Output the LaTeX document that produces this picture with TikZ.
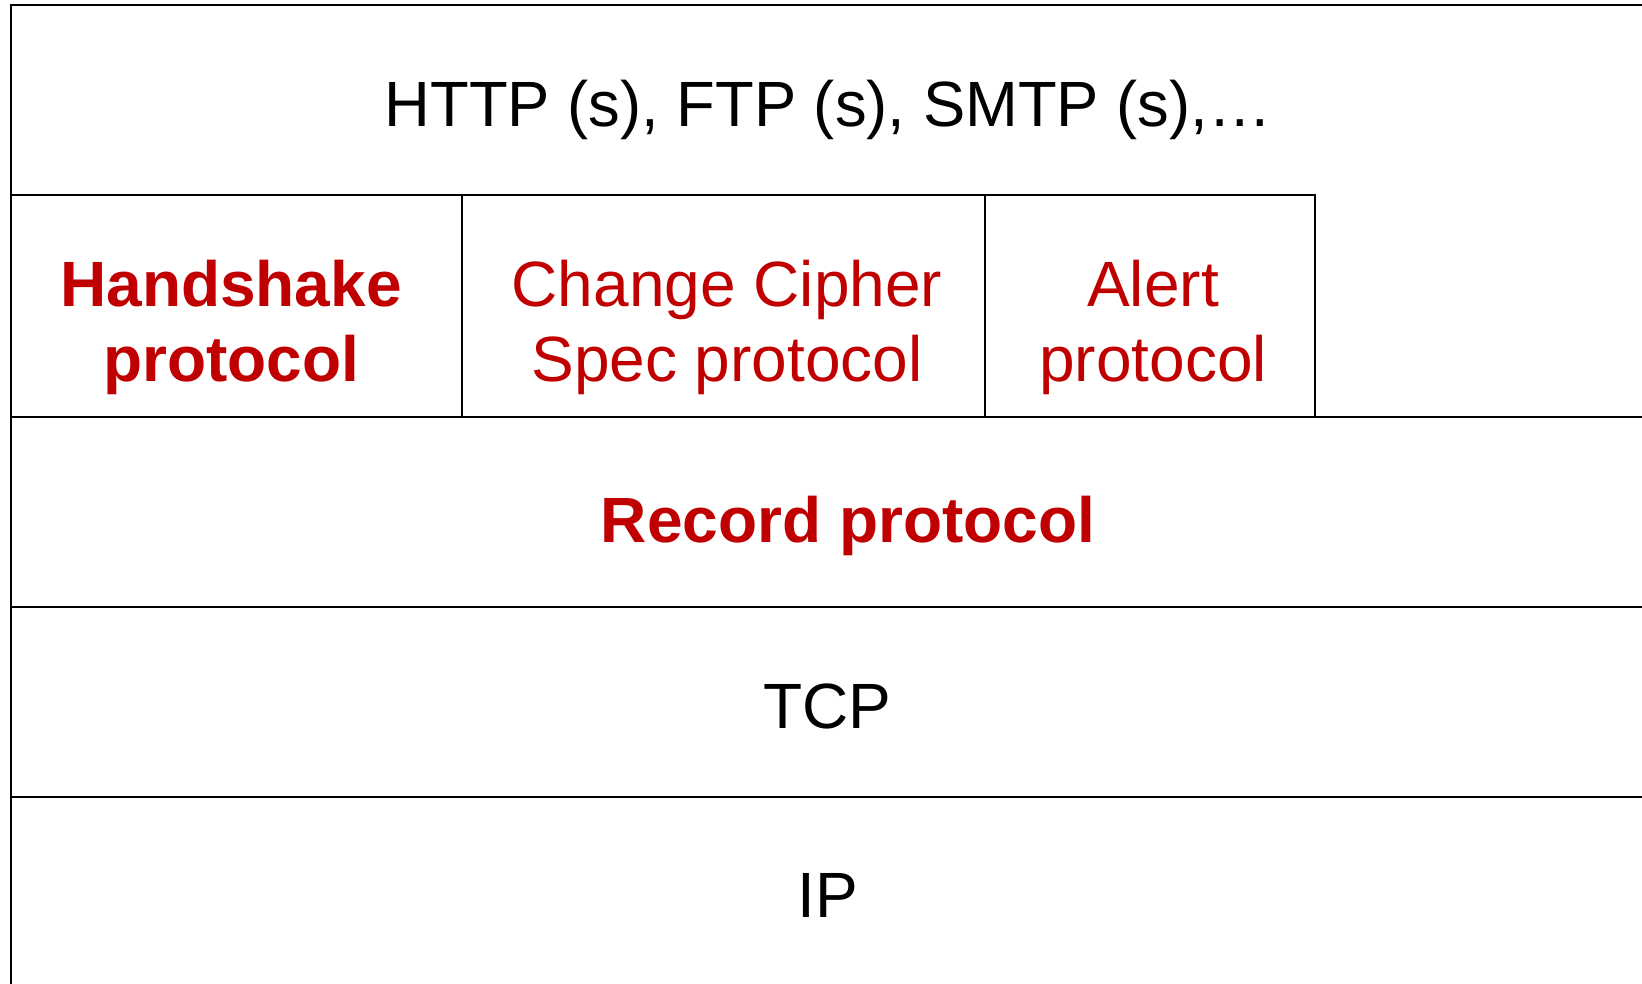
\documentclass[tikz,border=0pt]{standalone}
\usepackage{fontspec}
\setmainfont{Liberation Sans}
\definecolor{protred}{RGB}{192,0,0}
\begin{document}
\begin{tikzpicture}[x=0.5pt,y=-0.5pt,
  layer/.style={line width=1.2pt,black},
  lbl/.style={inner sep=0pt,anchor=base,font=\fontsize{32}{38}\selectfont},
  redlbl/.style={lbl,text=protred},
  redbold/.style={lbl,text=protred,font=\fontsize{32}{38}\selectfont\bfseries}]
\useasboundingbox (0,0) rectangle (1642,984);
% frame lines
\draw[layer] (1642,5) -- (11,5) -- (11,984);
\draw[layer] (11,195) -- (1315,195) -- (1315,417);
\draw[layer] (462,195) -- (462,417);
\draw[layer] (985,195) -- (985,417);
\draw[layer] (11,417) -- (1642,417);
\draw[layer] (11,607) -- (1642,607);
\draw[layer] (11,797) -- (1642,797);
% labels
\node[lbl,xscale=0.99] (app) at (828,127) {HTTP (s), FTP (s), SMTP (s),…};
\node[redbold] (hs1) at (231,306) {Handshake};
\node[redbold] (hs2) at (231,381) {protocol};
\node[redlbl] (cc1) at (727,306) {Change Cipher};
\node[redlbl] (cc2) at (727,381) {Spec protocol};
\node[redlbl] (al1) at (1153,306) {Alert};
\node[redlbl] (al2) at (1153,381) {protocol};
\node[redbold] (rec) at (848,542) {Record protocol};
\node[lbl] (tcp) at (827,728) {TCP};
\node[lbl] (ip) at (828,917) {IP};
\end{tikzpicture}
\end{document}
